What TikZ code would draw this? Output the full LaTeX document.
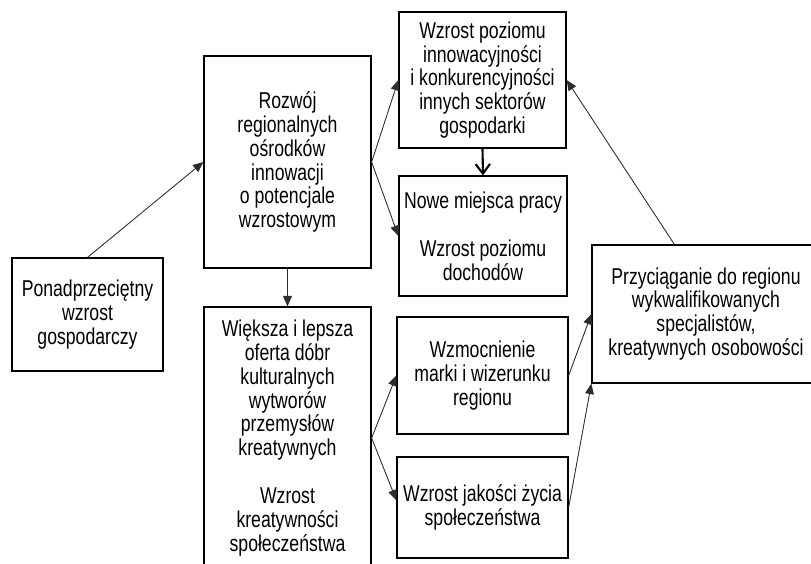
\documentclass[tikz,border=0pt]{standalone}
\usepackage{fontspec}
\setmainfont{Liberation Sans}
\newfontfamily\narrowfont{Liberation Sans}[FakeStretch=0.77]
\usetikzlibrary{arrows.meta, calc, positioning}
\definecolor{linegray}{RGB}{45,45,45}

\begin{document}
\begin{tikzpicture}[
    block/.style={draw, line width=0.9pt, rectangle, align=center, inner sep=2pt, font=\narrowfont\fontsize{16.3}{17}\selectfont},
    arrow/.style={-{Triangle[length=2.6mm, width=2.2mm]}, line width=0.6pt, draw=linegray, fill=linegray},
    boldarrow/.style={-{Straight Barb[length=2.4mm, width=3.6mm]}, line width=1.5pt}
]
\useasboundingbox (0,0) rectangle (20.275,-14.075);

% Start
\node[block, minimum width=3.775cm, minimum height=2.825cm] (growth) at (2.1875,-7.8625) {Ponadprzeciętny\\wzrost\\gospodarczy};

% Innovation centres
\node[block, minimum width=4.175cm, minimum height=5.3cm] (centres) at (7.1875,-4.05) {Rozwój\\regionalnych\\ośrodków\\innowacji\\o potencjale\\wzrostowym};

% Upper column
\node[block, minimum width=4.175cm, minimum height=3.4cm] (innov) at (12.0625,-2.0) {Wzrost poziomu\\innowacyjności\\i konkurencyjności\\innych sektorów\\gospodarki};
\node[block, minimum width=4.2cm, minimum height=3.0cm] (jobs) at (12.075,-5.9) {Nowe miejsca pracy\\[\baselineskip]Wzrost poziomu\\dochodów};

% Culture offer (cut at the bottom)
\node[block, minimum width=4.175cm, minimum height=6.55cm] (offer) at (7.1875,-10.95) {Większa i lepsza\\oferta dóbr\\kulturalnych\\wytworów\\przemysłów\\kreatywnych\\[\baselineskip]Wzrost\\kreatywności\\społeczeństwa};

% Lower column
\node[block, minimum width=4.275cm, minimum height=2.925cm] (brand) at (12.0625,-9.3875) {Wzmocnienie\\marki i wizerunku\\regionu};
\node[block, minimum width=4.275cm, minimum height=2.525cm] (life) at (12.0625,-12.6875) {Wzrost jakości życia\\społeczeństwa};

% Talent
\node[block, minimum width=5.7cm, minimum height=3.45cm] (talent) at (17.65,-7.85) {Przyciąganie do regionu\\wykwalifikowanych\\specjalistów,\\kreatywnych osobowości};
\coordinate (talentTop) at ([xshift=2.075cm]talent.north west);

% Arrows
\draw[arrow] (growth.north) -- (centres.west);
\draw[arrow] (centres.east) -- (innov.west);
\draw[arrow] (centres.east) -- (jobs.west);
\draw[boldarrow] (innov.south) -- (jobs.north);
\draw[arrow] (centres.south) -- (offer.north);
\draw[arrow] (offer.east) -- (brand.west);
\draw[arrow] (offer.east) -- ([yshift=0.18cm]life.west);
\draw[arrow] (brand.east) -- (talent.west);
\draw[arrow] (life.east) -- (talent.south west);
\draw[arrow] (talentTop) -- (innov.east);

\end{tikzpicture}
\end{document}
